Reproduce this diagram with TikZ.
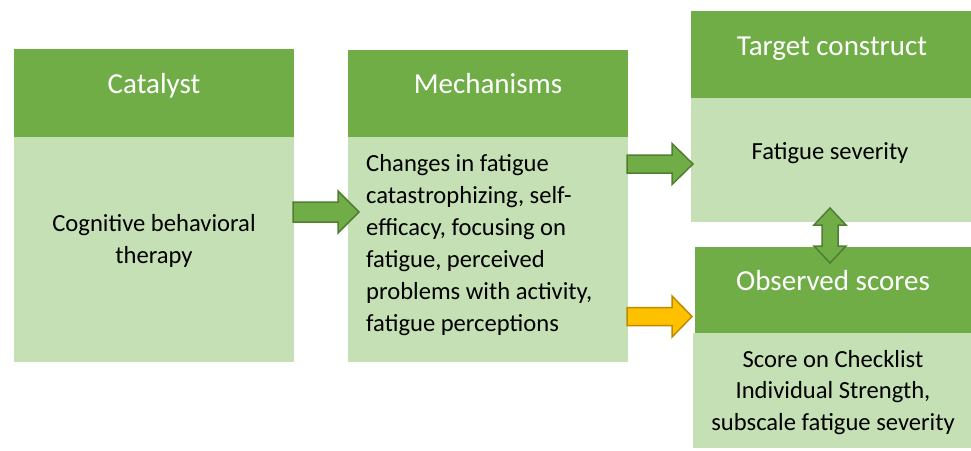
\documentclass[tikz,border=0pt]{standalone}
\usepackage{fontspec}
\setmainfont{Carlito}
\usetikzlibrary{calc}
\definecolor{hdrgreen}{HTML}{70AD47}
\definecolor{bodygreen}{HTML}{C5E0B4}
\definecolor{arrowline}{HTML}{507E32}
\definecolor{gold}{HTML}{FFC000}
\definecolor{goldline}{HTML}{BC8C00}
% horizontal block arrow: tail, tip, shaft half-width, head half-width, head length, style
\newcommand\hblockarrow[6]{%
  \path[#6] let \p1=#1, \p2=#2 in
    (\x1,\y1+#3pt) -- (\x2-#5pt,\y1+#3pt) -- (\x2-#5pt,\y1+#4pt) -- (\x2,\y1)
    -- (\x2-#5pt,\y1-#4pt) -- (\x2-#5pt,\y1-#3pt) -- (\x1,\y1-#3pt) -- cycle;}
\begin{document}
\begin{tikzpicture}[x=1pt,y=-1pt,
  box/.style={rectangle, inner sep=0pt, outer sep=0pt, anchor=north west},
  hdr/.style={box, fill=hdrgreen},
  bdy/.style={box, fill=bodygreen},
  htxt/.style={inner sep=0pt, text=white, font=\fontsize{29}{34}\selectfont},
  btxt/.style={inner sep=0pt, text=black, font=\fontsize{24.6}{32}\selectfont},
  greenarrow/.style={fill=hdrgreen, draw=arrowline, line width=1.5pt, line join=miter},
  goldarrow/.style={fill=gold, draw=goldline, line width=1.5pt, line join=miter}]
\useasboundingbox (0,0) rectangle (971,450);
% Catalyst
\node[hdr, minimum width=280pt, minimum height=88pt] (cath) at (14,49) {};
\node[bdy, minimum width=280pt, minimum height=225pt] (catb) at (14,137) {};
\node[htxt, anchor=base] (catt) at (154,93) {Catalyst};
\node[btxt, anchor=base, align=center] (catx) at (154,263) {Cognitive behavioral\\therapy};
% Mechanisms
\node[hdr, minimum width=280pt, minimum height=87pt] (mechh) at (348,50) {};
\node[bdy, minimum width=280pt, minimum height=225pt] (mechb) at (348,137) {};
\node[htxt, anchor=base] (mecht) at (488,93) {Mechanisms};
\node[btxt, anchor=base west, align=left] (mechx) at (366,331) {Changes in fatigue\\catastrophizing, self-\\efficacy, focusing on\\fatigue, perceived\\problems with activity,\\fatigue perceptions};
% Target construct
\node[hdr, minimum width=280pt, minimum height=87pt] (targh) at (691,11) {};
\node[bdy, minimum width=280pt, minimum height=124pt] (targb) at (691,98) {};
\node[htxt, anchor=base] (targt) at (832,55) {Target construct};
\node[btxt, anchor=base] (targx) at (830,159) {Fatigue severity};
% Observed scores
\node[hdr, minimum width=276pt, minimum height=86pt] (obsh) at (695,247) {};
\node[bdy, minimum width=278pt, minimum height=115pt] (obsb) at (693,333) {};
\node[htxt, anchor=base] (obst) at (833,290) {Observed scores};
\node[btxt, anchor=base, align=center, font=\fontsize{24.6}{31.5}\selectfont] (obsx) at (833,430) {Score on Checklist\\Individual Strength,\\subscale fatigue severity};
% arrow end points
\coordinate (a1tail) at ($(catb.east |- 0,212)+(-1,0)$);
\coordinate (a1tip)  at ($(mechb.west |- 0,212)+(11,0)$);
\coordinate (a2tail) at ($(mechb.east |- 0,164)+(-1,0)$);
\coordinate (a2tip)  at ($(targb.west |- 0,164)+(2,0)$);
\coordinate (a3tail) at ($(mechb.east |- 0,316.5)+(-1,0)$);
\coordinate (a3tip)  at ($(obsh.west |- 0,316.5)+(-3,0)$);
\coordinate (dtop) at ($(targb.south)+(-1,-14)$);
\coordinate (dbot) at ($(obsh.north)+(-3,16)$);
% arrows
\hblockarrow{(a1tail)}{(a1tip)}{10}{21}{21}{greenarrow}
\hblockarrow{(a2tail)}{(a2tip)}{9}{20.5}{21}{greenarrow}
\hblockarrow{(a3tail)}{(a3tip)}{9}{20.5}{20}{goldarrow}
\path[greenarrow] let \p1=(dtop), \p2=(dbot) in
  (\x1,\y1) -- (\x1+16pt,\y1-17pt) -- (\x1+8pt,\y1-17pt) -- (\x1+8pt,\y2+17pt)
  -- (\x1+16pt,\y2+17pt) -- (\x1,\y2) -- (\x1-16pt,\y2+17pt) -- (\x1-8pt,\y2+17pt)
  -- (\x1-8pt,\y1-17pt) -- (\x1-16pt,\y1-17pt) -- cycle;
\end{tikzpicture}
\end{document}
